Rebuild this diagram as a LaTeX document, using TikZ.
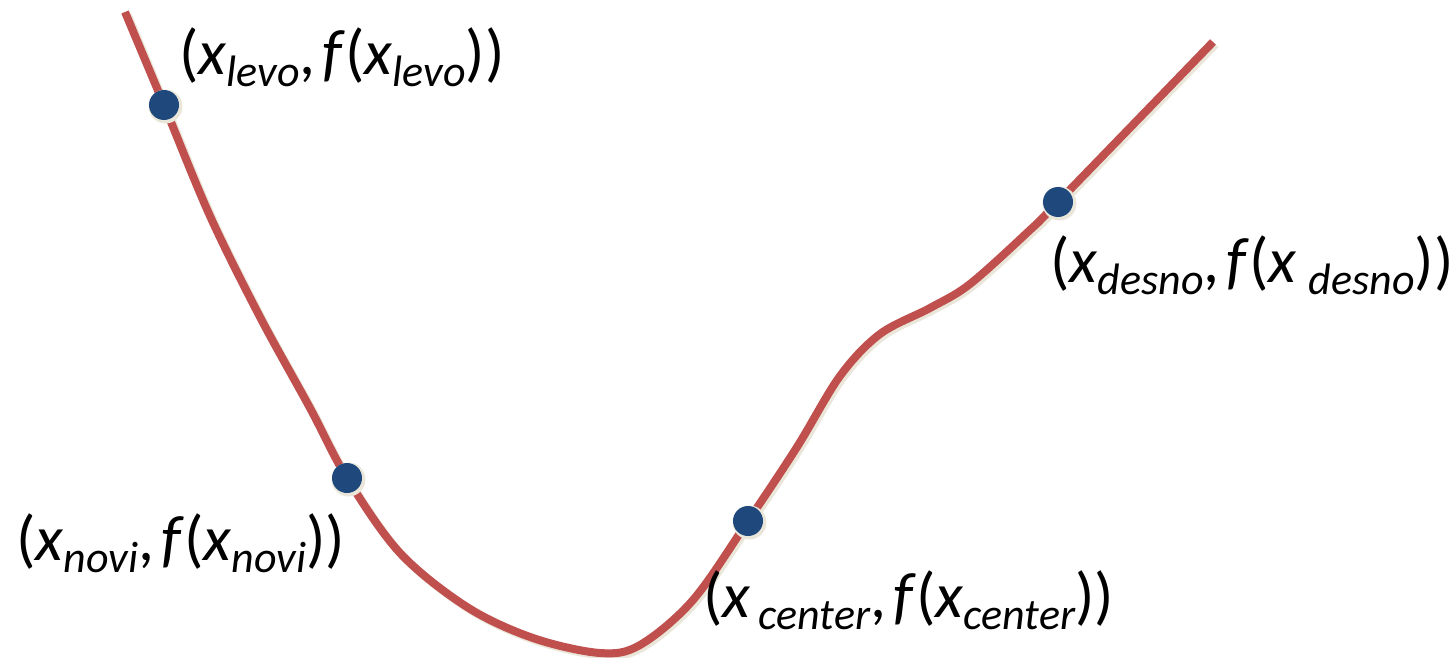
\documentclass[tikz,border=0pt]{standalone}
\usepackage{fontspec}
\setmainfont{Carlito}
\definecolor{curvered}{HTML}{C0504D}
\definecolor{dotblue}{HTML}{1F497D}
\definecolor{ringbeige}{HTML}{EAE7DA}
\newcommand\lbsub[1]{\raisebox{-12pt}{\fontsize{44}{44}\selectfont\itshape #1}}
\newcommand\ix{\textit{x}}
\newcommand\sep{,\hspace{7pt}}
\begin{document}
\begin{tikzpicture}[x=1pt,y=-1pt,
  lbl/.style={anchor=base west,inner sep=0pt,font=\fontsize{64}{64}\selectfont},
  dotnode/.style={circle,fill=dotblue,minimum size=30pt,inner sep=0pt},
  ringnode/.style={circle,fill=ringbeige,minimum size=34pt,inner sep=0pt}]
\useasboundingbox (0,0) rectangle (1453,658);
\def\curvepts{(125,12) (164,105) (210,216) (260,317) (310,408) (347,478) (400,553) (467,607) (533,638) (600,653) (640,645) (693,600) (748,521) (797,447) (840,376) (880,334) (930,308) (970,284) (1030,230) (1058,202) (1213,42)}
\begin{scope}[shift={(2.5,2.5)}]
\draw[ringbeige,line width=8pt] plot[smooth,tension=0.55] coordinates {\curvepts};
\end{scope}
\draw[curvered,line width=8pt] plot[smooth,tension=0.55] coordinates {\curvepts};
\foreach \n/\px/\py in {l/164/105,n/347/478,c/748/521,d/1058/202}{
  \node[ringnode] (r\n) at (\px+1.5,\py+1.5) {};
  \node[dotnode] (p\n) at (\px,\py) {};
}
\node[lbl] (tl) at (179,75) {(\ix\lbsub{levo}\sep\textit{f}(\ix\lbsub{levo}))};
\node[lbl] (tn) at (16,560) {(\ix\lbsub{novi}\sep\textit{f}(\ix\lbsub{novi}))};
\node[lbl] (tc) at (703,617) {(\ix\hspace{8pt}\lbsub{center}\sep\textit{f}(\ix\lbsub{center}))};
\node[lbl] (td) at (1050,282) {(\ix\lbsub{desno}\sep\textit{f}(\ix\hspace{12pt}\lbsub{desno}))};
\end{tikzpicture}
\end{document}
